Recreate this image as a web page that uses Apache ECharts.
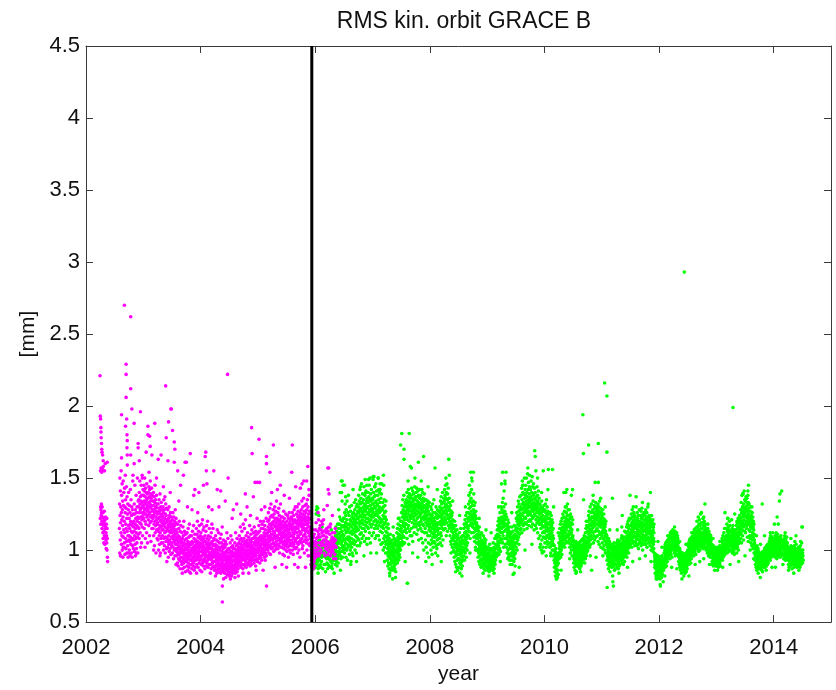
<!DOCTYPE html>
<html>
<head>
<meta charset="utf-8">
<script src="https://cdn.jsdelivr.net/npm/echarts@6/dist/echarts.min.js"></script>
<style>
  html, body { margin: 0; padding: 0; background: #ffffff; }
  #chart { width: 836px; height: 690px; }
</style>
</head>
<body>
<div id="chart"></div>
<script>
// Daily RMS of the kinematic orbit, one string per calendar month (Jan..Dec).
// Each entry is a two-digit code for one day: value [mm] = (code + 60) / 100.
// "--" marks a day without a solution, "" a month without data.

// ---- first processing (magenta) ----
const magenta2002 = ["", "", "",
  "62 95 70 58 68 97 64 72 66 94 60 55 70 63 96 58 52 66 48 98 57 62 45 60 53 67 50 95 58 44",
  "61 55 49 63 56 47 52 41 58 50 45 62 40 55 48 35 32",
  "", "",
  "55 72 38 90 64 47 81 59 36 70 52 95 66 44 78 61 50 86 40 68 57 74 35 63 88 49 71 54 80 42",
  "60 45 83 52 70 37 66 92 48 75 58 41 69 55 84 46 62 38 77 53 99 65 43 72 50 35 68 57 80 47",
  "50 62 40 71 55 46 66 36 58 82 49 60 44 75 53 38 64 47 70 57 35 52 68 43 88 59 48 65 41 56",
  "47 60 53 72 39 65 50 85 44 58 68 36 55 62 48 78 52 41 66 57 45 70 60 90 49 63 38 56 74 51",
  "62 75 55 70 48 80 66 59 88 72 52 68 77 42 63 74 58 85 69 45 78 61 73 56 90 66 50 71 64 82"];
const magenta2003 = [
  "70 78 62 85 66 74 55 81 68 90 72 60 77 48 83 65 73 58 80 69 75 52 86 63 71 79 67 45 76 64",
  "68 80 61 73 57 84 70 65 77 50 82 66 72 59 88 74 63 79 46 69 76 60 83 71 55 67 78 64",
  "62 74 55 68 80 50 71 64 58 77 43 66 73 60 85 52 69 75 57 63 38 70 67 78 54 61 72 48 65 59",
  "58 66 47 72 53 62 40 69 55 75 50 63 44 67 57 79 52 60 38 65 70 48 56 73 61 45 68 54 59 64",
  "50 63 57 45 70 54 66 40 60 75 48 58 68 43 62 52 77 56 38 65 49 72 59 46 64 53 69 41 61 55",
  "48 60 42 55 68 46 57 35 62 50 44 58 70 39 53 64 47 56 41 60 52 66 45 59 37 54 63 49 57 43",
  "52 45 61 38 56 48 66 42 58 50 34 55 63 47 53 40 60 46 57 36 51 68 44 59 49 41 62 54 39 47",
  "44 36 52 40 31 48 58 38 45 29 50 42 34 55 46 37 60 41 33 49 43 27 53 39 47 35 57 32 45 40",
  "38 46 30 52 41 35 48 27 43 56 33 39 50 44 31 60 37 45 28 53 40 34 47 36 42 25 51 38 44 32",
  "41 33 48 37 29 52 44 35 40 26 46 38 55 31 43 36 49 28 42 34 58 39 45 30 37 50 33 24 44 40",
  "36 44 30 50 39 27 46 34 41 53 32 38 45 29 42 35 57 31 40 48 26 37 43 33 51 39 28 46 35 41",
  "40 47 33 55 38 44 30 51 42 36 60 34 46 39 28 49 43 35 53 37 41 31 57 45 33 48 39 26 50 42"];
const magenta2004 = [
  "44 35 52 39 30 47 58 36 42 33 49 40 61 31 45 38 54 29 43 37 48 32 56 41 34 46 39 27 50 36",
  "38 46 32 53 40 29 44 36 57 42 31 48 35 41 60 33 45 28 39 50 43 34 47 37 30 55 41 36 44",
  "42 34 49 30 38 45 27 52 36 41 33 58 39 46 31 44 28 40 55 35 43 37 29 48 32 40 47 26 38 43",
  "36 28 44 32 50 39 26 41 34 47 30 37 24 43 35 54 29 40 33 46 27 38 31 52 36 25 42 34 29 45",
  "33 40 27 48 35 30 42 24 37 51 29 34 45 31 26 39 56 32 28 43 36 25 41 33 47 30 38 27 35 44",
  "30 37 24 42 33 28 46 35 21 39 31 26 44 34 29 52 36 23 40 32 27 38 48 30 25 35 41 28 33 22",
  "34 27 40 23 36 31 45 29 38 25 50 33 28 42 35 22 39 30 47 26 37 32 43 24 36 29 41 33 27 38",
  "29 36 41 26 33 45 30 38 24 35 52 31 27 40 34 43 28 37 32 48 25 39 30 36 44 33 27 41 35 31",
  "38 45 32 50 36 42 29 47 40 34 56 37 31 44 39 28 48 35 41 33 53 38 30 46 36 43 27 40 58 34",
  "41 35 48 30 44 38 55 33 40 29 46 37 61 32 43 36 50 28 39 45 34 42 31 47 37 52 35 40 30 44",
  "36 43 31 49 38 45 33 40 57 35 42 29 47 37 44 32 51 39 34 46 41 30 54 38 43 35 48 33 40 37",
  "42 48 35 52 39 45 31 56 41 37 49 44 33 50 38 46 29 53 40 36 47 43 34 51 39 62 45 32 48 41"];
const magenta2005 = [
  "45 38 52 41 34 48 57 40 46 36 53 43 31 49 44 39 60 35 47 42 50 37 55 44 33 48 40 58 46 39",
  "48 41 55 37 50 44 60 39 46 52 35 49 43 57 40 47 33 54 45 38 51 42 62 47 36 50 44 41",
  "52 45 60 40 56 48 66 43 54 38 61 50 46 58 42 69 53 47 63 37 55 49 72 44 57 51 41 64 48 59",
  "55 47 63 42 58 51 68 45 53 39 60 49 65 44 57 52 70 40 62 48 56 43 67 50 59 46 54 74 41 61",
  "50 62 44 57 49 66 41 55 60 47 53 69 43 58 51 64 38 56 48 61 45 54 72 46 59 52 42 63 50 57",
  "48 58 42 55 63 46 52 37 60 50 44 57 67 41 53 49 62 36 56 45 51 59 43 54 47 65 40 57 50 44",
  "53 45 60 39 55 48 64 42 51 57 46 62 35 54 49 58 43 66 47 52 40 59 45 56 61 38 50 55 44 63",
  "50 57 43 62 47 54 66 40 58 45 52 60 37 55 49 64 44 51 68 42 56 48 61 46 53 70 41 59 47 55",
  "56 48 65 42 60 52 70 45 58 38 63 50 55 67 44 61 49 72 40 57 53 64 46 59 35 66 51 62 47 58",
  "60 52 68 45 63 56 74 48 59 41 65 54 70 43 61 57 50 76 46 62 55 67 38 58 64 51 71 47 60 53",
  "58 66 49 62 72 45 55 68 40 60 53 75 47 63 57 70 36 59 52 65 44 61 78 50 56 67 43 62 54 48",
  "45 36 52 30 48 40 56 33 44 38 50 28 47 35 42 54 31 46 39 27 49 37 43 32 51 34 40 29 45 38"];
const magenta2006 = [
  "46 -- 54 35 -- 43 59 -- 48 36 -- 45 40 -- 37 49 -- 53 42 -- 38 61 -- 51 36 -- 41 55 -- 45",
  "49 -- 57 38 -- 45 -- 54 40 -- 60 43 -- 52 46 -- 58 50 -- 44 53 -- 47 61 -- 50 38 --",
  "43 -- 36 47 -- 41 54 -- 52 45 -- 49 55 -- 44 52 -- 40 46 -- 37 53 -- 42 56 -- 45 39 --",
  "44 51 -- 56 42 -- 58 36 -- 45 40 -- 38 47 -- 43 49 -- 52 41 -- 46 39 -- 44 34 -- 42 48",
  "46 -- 52 37 -- 43 55 -- 47 34 -- 42"];

// single days that stand out from the daily cloud: [year, mm]
const magentaSparse = [
  [2002.245, 2.21], [2002.25, 1.93], [2002.255, 1.91], [2002.26, 1.85], [2002.262, 1.82],
  [2002.265, 1.78], [2002.27, 1.74], [2002.275, 1.70], [2002.28, 1.68], [2002.29, 1.66],
  [2002.30, 1.62], [2002.335, 1.60], [2002.37, 1.61],
  [2002.67, 2.70], [2002.78, 2.62], [2002.70, 2.29], [2002.70, 2.22], [2002.78, 2.12],
  [2002.70, 2.06], [2002.80, 1.98], [2002.95, 1.96], [2002.62, 1.94], [2002.71, 1.91],
  [2002.69, 1.86], [2002.84, 1.88], [2002.715, 1.80], [2002.72, 1.76], [2002.715, 1.71],
  [2002.72, 1.66], [2002.91, 1.74], [2002.91, 1.71], [2002.78, 1.66], [2002.84, 1.60],
  [2002.62, 1.64], [2002.93, 1.62],
  [2003.08, 1.86], [2003.20, 1.88], [2003.08, 1.80], [2003.12, 1.72], [2003.05, 1.68],
  [2003.15, 1.66], [2003.11, 1.79], [2003.39, 2.14], [2003.48, 1.98], [2003.49, 1.98],
  [2003.44, 1.89], [2003.51, 1.83], [2003.54, 1.75], [2003.55, 1.70], [2003.54, 1.61],
  [2003.40, 1.78], [2003.31, 1.66], [2003.43, 1.62], [2003.73, 1.61], [2003.82, 1.67],
  [2003.26, 1.63], [2003.75, 1.61], [2003.90, 1.42], [2003.65, 1.45], [2003.70, 1.52],
  [2003.60, 1.55], [2003.97, 1.40], [2003.88, 1.38],
  [2004.09, 1.68], [2004.08, 1.65], [2004.10, 1.55], [2004.23, 1.55], [2004.05, 1.45],
  [2004.11, 1.46], [2004.29, 1.42], [2004.35, 1.41], [2004.48, 1.50], [2004.57, 1.28],
  [2004.78, 1.39], [2004.47, 2.22], [2004.38, 0.75], [2004.38, 0.64], [2004.89, 1.85],
  [2004.90, 1.67], [2004.95, 1.47], [2004.99, 1.47], [2005.03, 1.47], [2004.92, 1.37],
  [2005.02, 1.77], [2005.15, 1.65], [2005.15, 1.60], [2005.15, 0.75], [2005.27, 1.73],
  [2005.60, 1.73], [2005.21, 1.54], [2005.59, 1.54], [2005.39, 1.45], [2005.87, 1.58],
  [2005.85, 1.48], [2005.80, 1.48], [2005.74, 1.43],
  [2006.22, 1.57], [2006.235, 1.57], [2006.225, 1.42], [2006.24, 1.39], [2006.21, 1.31],
  // looser days around the main cloud
  [2002.60, 0.96], [2002.65, 1.02], [2002.74, 0.98], [2002.82, 1.52], [2002.88, 0.98],
  [2002.98, 1.52], [2003.03, 1.02], [2003.10, 1.54], [2003.18, 1.00], [2003.23, 1.50],
  [2003.29, 0.96], [2003.35, 1.44], [2003.41, 0.92], [2003.47, 1.40], [2003.57, 0.90],
  [2003.62, 1.34], [2003.68, 0.84], [2003.77, 1.30], [2003.80, 0.85], [2003.85, 1.28],
  [2003.93, 0.84], [2003.95, 1.26], [2004.02, 0.85], [2004.14, 1.30], [2004.17, 0.84],
  [2004.20, 1.28], [2004.26, 0.82], [2004.32, 1.30], [2004.40, 0.80], [2004.43, 1.34],
  [2004.52, 0.80], [2004.55, 1.22], [2004.60, 0.81], [2004.63, 1.32], [2004.66, 0.82],
  [2004.70, 1.25], [2004.74, 0.84], [2004.81, 1.30], [2004.84, 0.84], [2004.87, 1.24],
  [2004.97, 0.86], [2005.06, 1.28], [2005.09, 0.86], [2005.12, 1.30], [2005.24, 1.40],
  [2005.30, 0.88], [2005.34, 1.42], [2005.42, 0.90], [2005.46, 1.38], [2005.50, 0.88],
  [2005.55, 1.36], [2005.64, 0.90], [2005.66, 1.44], [2005.70, 0.88], [2005.77, 1.46],
  [2005.83, 0.88], [2005.89, 1.42], [2006.05, 1.26], [2006.15, 1.28], [2006.30, 1.24]];

// ---- second processing (green) ----
const green2005 = ["", "", "", "", "", "", "", "", "", "", "",
  "-- -- -- -- -- -- -- -- -- -- -- -- 35 28 42 31 38 46 30 40 33 27 44 36 32 39 29 41 34 37"];
const green2006 = [
  "33 40 28 45 36 31 65 38 68 34 42 70 30 66 37 44 69 32 39 27 46 35 41 64 29 43 36 33 47 38",
  "36 -- 30 45 -- 39 28 -- 37 32 -- 35 41 -- 45 38 -- 43 27 -- 36 46 -- 39 44 -- 30 42",
  "38 -- 44 30 -- 35 47 -- 37 43 -- 40 34 -- 31 39 -- 45 27 -- 36 30 -- 35 40 -- 44 29 -- 34",
  "36 42 -- 45 33 -- 28 44 -- 32 47 -- 40 29 -- 36 31 -- 27 46 -- 33 42 -- 37 45 -- 39 35 --",
  "40 47 33 52 37 43 30 50 41 35 56 38 45 32 53 39 44 29 49 36 46 58 34 42 51 31 48 39 55 36",
  "45 58 38 52 63 41 49 80 36 55 47 61 34 50 88 44 57 39 53 74 46 42 60 35 51 85 48 56 40 62",
  "50 62 43 57 38 66 47 54 72 41 59 45 64 35 52 68 48 56 40 61 74 44 53 33 58 49 66 42 55 47",
  "55 43 64 49 58 37 70 52 46 61 40 57 67 44 53 32 60 48 71 42 56 63 38 51 65 45 59 36 54 62",
  "58 66 47 62 52 73 44 60 55 68 40 57 64 50 75 46 61 53 70 38 59 65 49 56 72 43 63 54 67 48",
  "62 70 54 78 47 66 58 74 43 68 60 82 51 64 72 56 45 76 63 69 52 86 59 67 48 73 61 55 79 65",
  "66 58 75 50 70 63 84 55 68 72 46 64 78 60 89 53 71 67 57 81 62 48 74 69 59 76 44 65 73 56",
  "70 62 80 55 73 66 48 77 60 85 68 52 75 64 90 58 71 45 67 79 61 74 56 82 63 69 50 76 65 72"];
const green2007 = [
  "68 75 58 89 63 72 52 80 66 91 60 77 70 55 84 64 73 48 69 78 61 86 57 74 65 50 81 67 71 59",
  "64 72 55 78 60 90 68 50 75 63 82 57 70 66 47 80 62 86 73 53 67 59 76 44 69 61 79 56",
  "60 52 68 45 73 57 64 40 70 55 85 48 62 58 75 42 66 50 71 46 59 63 38 67 53 74 44 61 56 49",
  "45 38 52 33 47 41 29 50 36 43 55 31 44 39 27 48 35 42 24 46 37 51 30 40 34 45 26 38 43 32",
  "36 42 28 47 33 39 20 44 31 37 50 26 41 35 45 29 38 48 32 43 27 36 40 30 46 34 25 39 44 33",
  "40 47 34 52 38 44 31 55 42 36 49 58 39 46 33 51 43 62 37 48 41 54 35 57 45 50 40 60 44 53",
  "55 48 66 43 60 52 71 46 63 57 75 50 68 44 59 65 53 78 49 62 70 56 45 67 61 73 54 64 58 72",
  "66 58 75 52 70 63 80 48 68 17 73 61 55 77 65 82 57 71 44 67 74 60 79 53 69 63 76 50 72 64",
  "70 62 78 55 73 67 83 50 65 76 59 71 81 46 68 74 63 56 79 69 61 75 52 72 66 84 58 70 64 77",
  "68 75 60 80 56 72 65 83 51 70 77 62 74 58 67 81 54 71 63 78 47 69 73 59 66 82 57 76 64 70",
  "65 72 55 78 60 68 48 75 62 70 82 53 66 73 58 80 45 69 63 76 57 71 40 67 74 61 79 52 64 70",
  "62 55 70 47 66 59 75 42 63 68 52 72 57 64 38 69 61 74 50 58 67 45 71 60 35 65 54 73 56 62"];
const green2008 = [
  "58 50 65 44 61 53 70 40 56 63 47 68 52 59 37 64 55 72 45 60 49 66 42 57 62 51 75 46 58 54",
  "52 60 45 66 49 56 38 63 54 70 43 58 50 65 41 57 62 47 68 53 36 59 55 64 44 51 67 48",
  "55 63 48 70 58 66 45 74 60 52 68 77 50 64 57 72 43 62 69 55 80 59 65 47 73 61 67 54 76 60",
  "66 74 58 82 63 70 78 55 72 85 61 68 76 50 80 65 71 59 86 67 75 53 79 64 70 62 83 57 73 69",
  "70 62 76 55 68 60 73 50 65 58 71 46 63 56 67 44 60 53 64 48 58 66 42 55 61 47 52 39 57 50",
  "48 40 55 35 50 44 60 32 46 53 38 42 57 30 49 36 45 51 28 43 39 54 33 47 41 26 50 37 44 34",
  "40 34 48 28 43 37 52 31 45 24 39 46 33 41 55 30 44 36 27 49 38 42 32 47 35 29 50 40 33 45",
  "42 50 36 55 45 39 58 47 33 52 44 61 38 49 56 41 64 46 53 35 59 48 43 66 51 40 57 45 62 50",
  "55 66 50 72 60 78 53 69 63 85 57 74 65 48 80 61 70 94 58 76 67 52 82 64 73 59 88 62 71 56",
  "65 58 74 52 68 61 79 49 63 71 55 66 46 60 73 53 64 42 58 67 50 56 62 45 59 48 54 40 57 51",
  "48 40 55 35 50 44 38 53 32 46 41 56 36 43 30 49 39 45 33 51 37 42 28 47 34 40 52 31 44 38",
  "40 33 46 29 42 36 50 31 38 44 27 41 35 48 30 39 34 45 26 43 37 32 47 29 40 35 42 28 36 33"];
const green2009 = [
  "34 28 38 31 26 36 42 29 33 27 40 32 35 25 37 30 44 28 34 31 39 26 33 36 29 41 32 27 35 30",
  "31 36 28 40 33 26 38 30 45 34 29 37 32 42 27 35 39 31 48 36 30 41 33 38 44 35 50 37",
  "42 48 36 54 44 51 38 57 46 40 60 49 43 55 37 62 50 45 58 41 53 66 47 56 39 61 52 70 48 59",
  "55 63 47 68 58 52 73 45 60 66 50 76 56 62 42 70 59 81 53 64 48 67 57 86 61 44 72 54 65 94",
  "58 48 63 42 55 50 38 57 45 52 61 40 47 54 35 59 44 50 37 53 46 33 56 41 49 30 51 43 36 48",
  "45 38 52 33 47 41 56 30 44 49 36 53 39 23 46 42 35 50 32 48 40 57 37 43 34 51 29 45 38 54",
  "48 56 42 62 50 45 66 53 40 60 55 70 47 58 64 52 74 49 61 67 44 72 57 63 51 77 59 68 54 65",
  "62 70 55 78 65 60 83 68 52 75 64 88 58 72 80 61 69 57 85 73 66 79 54 71 90 63 76 67 59 82",
  "70 78 62 85 68 74 58 90 72 66 80 55 77 69 93 64 75 82 60 71 87 67 73 57 79 65 84 70 76 61",
  "74 66 82 60 77 70 88 64 72 56 80 68 75 91 62 71 84 58 78 67 73 86 63 69 79 54 76 65 83 70",
  "72 64 80 57 75 68 95 61 70 77 55 73 66 84 59 71 63 78 52 69 74 60 81 67 48 72 62 76 58 65",
  "65 58 72 50 68 61 44 70 55 63 40 66 59 74 47 62 38 57 69 52 64 42 60 67 49 56 39 71 53 61"];
const green2010 = [
  "60 52 68 45 63 56 72 48 58 66 42 61 54 75 50 64 57 70 46 59 53 67 44 62 55 96 49 65 58 51",
  "55 48 62 42 58 51 66 45 53 60 38 56 49 64 43 57 52 47 61 40 54 46 59 50 36 55 44 48",
  "40 33 43 28 37 31 25 39 34 22 36 30 41 27 35 20 32 38 29 24 36 33 21 30 37 26 34 23 31 35",
  "38 45 34 50 41 36 55 43 48 39 58 46 35 52 44 60 40 49 54 37 47 62 42 51 56 45 65 48 53 43",
  "50 58 44 63 53 47 67 55 42 60 52 70 48 57 80 45 62 54 66 50 59 82 46 64 56 72 51 61 49 68",
  "58 50 64 45 60 53 68 47 56 42 62 51 57 38 65 48 55 44 59 52 40 63 46 54 36 58 49 43 61 50",
  "42 36 47 31 40 34 45 28 38 43 33 39 26 44 35 41 30 37 46 32 38 25 42 36 29 40 34 44 31 37",
  "35 40 30 45 37 33 42 28 39 44 34 36 27 41 38 32 46 35 30 43 37 29 40 33 47 36 31 39 34 42",
  "38 44 33 48 40 36 75 42 46 35 50 39 43 31 47 41 37 52 34 45 40 55 38 49 36 43 57 42 46 39",
  "45 53 40 60 48 56 43 64 51 46 67 55 49 62 42 58 52 70 47 61 54 44 66 57 50 72 59 26 63 53",
  "55 63 48 68 58 52 74 60 45 66 56 62 50 71 59 64 47 69 57 87 53 65 61 73 49 67 58 63 54 70",
  "62 55 68 50 64 58 72 46 60 66 53 70 57 63 44 67 59 74 51 61 65 48 69 56 62 42 58 66 52 60"];
const green2011 = [
  "58 50 64 45 60 53 68 41 55 62 48 57 52 65 43 59 47 54 61 40 56 50 58 38 53 46 60 44 51 49",
  "45 38 50 33 14 42 36 47 30 40 44 35 27 48 39 32 43 37 29 46 34 41 25 38 44 31 36 42",
  "38 32 44 28 40 35 30 76 42 33 18 37 41 15 29 39 34 45 31 36 26 43 38 33 40 27 35 42 30 37",
  "35 41 30 45 37 33 28 43 39 34 47 31 36 42 27 38 44 32 40 35 29 46 37 33 41 30 38 43 34 36",
  "38 44 33 48 40 36 50 31 42 64 37 45 34 47 39 43 30 46 41 35 49 38 44 32 53 40 36 46 42 39",
  "42 48 37 52 44 40 56 46 35 50 43 58 39 47 53 41 60 45 49 38 55 44 51 61 42 57 46 52 78 48",
  "50 57 44 62 52 47 65 54 42 59 51 68 48 56 63 45 60 53 70 49 58 46 66 55 61 50 64 43 57 52",
  "56 49 63 45 59 52 77 47 55 61 43 58 50 66 48 54 62 44 57 51 64 41 60 53 47 56 68 50 58 45",
  "52 60 46 64 54 49 67 43 57 62 48 55 69 45 59 51 63 40 56 53 65 47 58 50 61 44 54 66 49 57",
  "57 50 64 46 60 53 68 44 55 62 48 58 51 66 42 59 54 61 47 56 70 49 63 52 57 45 60 53 64 48",
  "55 48 62 43 58 51 80 46 56 60 40 53 49 64 45 57 52 42 59 50 47 61 39 54 44 56 48 41 52 46",
  "38 32 36 28 34 30 24 35 31 27 37 22 33 29 36 25 32 35 20 30 34 28 23 31 36 26 33 29 21 32"];
const green2012 = [
  "30 25 34 22 28 32 20 27 31 15 29 35 24 33 26 30 21 28 36 25 32 23 29 34 27 31 18 30 26 33",
  "32 38 29 42 34 30 40 36 28 44 33 39 31 45 37 35 41 29 46 38 34 43 32 40 47 36 42 39",
  "40 45 36 48 42 38 50 44 34 47 41 52 39 46 43 37 49 45 40 53 42 47 35 51 44 48 41 54 46 43",
  "44 49 40 52 46 42 38 50 45 41 53 47 36 48 43 51 39 46 44 49 37 52 45 42 47 40 50 43 48 46",
  "42 36 45 32 40 35 38 30 37 33 41 28 36 31 39 26 34 37 29 33 38 24 35 31 36 27 34 30 38 32",
  "33 28 36 25 31 34 22 30 35 27 32 29 37 24 33 30 26 35 31 28 38 32 25 34 29 36 31 27 39 33",
  "35 40 32 43 37 34 45 38 30 42 36 47 33 39 44 35 41 48 37 31 43 39 46 34 40 49 38 44 36 42",
  "42 47 38 50 44 40 52 46 36 49 43 54 41 45 48 39 51 44 55 42 47 37 50 45 53 41 48 43 56 46",
  "46 52 41 56 48 44 63 50 39 54 47 58 43 49 61 45 53 40 57 51 46 65 48 42 55 50 59 44 52 47",
  "48 55 43 59 50 46 62 52 41 57 49 63 45 53 60 47 51 44 56 48 54 42 58 50 46 53 40 55 49 51",
  "47 42 52 38 48 44 55 40 46 50 36 47 43 53 39 45 49 37 51 44 41 48 35 46 42 50 38 44 47 40",
  "40 35 44 32 38 42 30 37 41 34 39 29 43 36 33 40 31 38 35 42 30 37 33 39 34 41 29 36 38 32"];
const green2013 = [
  "36 32 40 29 35 38 31 42 34 30 37 33 39 28 36 41 32 35 30 38 34 43 31 37 33 40 29 36 34 38",
  "38 42 34 46 39 36 48 41 33 44 37 50 40 35 45 42 38 52 36 43 47 39 55 41 37 49 44 40",
  "44 50 40 55 46 42 58 48 38 53 45 62 43 51 47 56 41 49 54 45 39 52 60 47 43 57 50 46 53 48",
  "48 44 53 40 50 46 61 42 49 55 38 47 51 44 57 41 48 52 39 46 54 43 50 37 47 45 52 41 49 44",
  "45 50 41 54 47 43 57 49 38 52 46 59 42 48 55 44 51 62 47 40 56 50 45 60 53 48 64 46 58 51",
  "55 62 48 68 57 52 73 60 45 66 58 78 54 63 70 50 65 59 79 56 67 47 72 61 64 81 57 69 53 75",
  "66 58 74 52 70 63 77 60 68 55 76 64 73 57 71 49 67 62 78 59 73 46 65 61 69 54 72 58 63 50",
  "60 53 67 48 62 56 70 45 58 64 50 57 43 61 55 66 47 59 52 63 41 56 49 60 44 54 58 38 51 47",
  "45 38 43 33 41 36 30 39 34 42 28 37 32 40 26 35 43 31 38 29 36 33 41 27 34 39 30 36 32 38",
  "35 30 38 27 33 36 21 32 29 37 34 31 28 35 31 26 38 33 30 36 25 34 39 29 32 35 28 37 31 34",
  "33 38 30 41 35 32 40 28 36 34 42 31 37 39 29 35 43 32 38 34 40 30 36 44 33 37 31 41 35 39",
  "38 43 34 46 40 36 48 42 33 45 39 50 37 44 41 35 47 43 38 49 36 42 45 40 52 37 46 41 44 39"];
const green2014 = [
  "40 45 36 48 42 58 38 46 43 50 35 44 39 47 41 52 37 45 40 49 34 43 46 38 51 42 36 48 44 40",
  "44 38 47 42 36 45 40 49 37 43 46 35 48 41 44 39 50 42 36 47 43 38 45 41 46",
  "42 37 46 34 44 40 48 36 43 39 50 35 41 45 33 47 38 42 46 37 44 40 49 35 43 39 45 36 41 38",
  "38 33 42 30 37 35 40 28 36 39 32 41 34 37 29 40 35 31 38 43 33 36 30 39 34 41 27 37 32 36",
  "34 39 30 42 36 32 40 28 37 35 43 31 38 46 33 36 29 41 34 38 31 44 35 30 39 33 37 28 40 35",
  "36 32 40 29 38 34 42 31 37 35 30 39 33 41 36 28 38 34 43 32 37 35 30 40 33 38 45 34 56 36",
  "34 38 31 40 36 33"];

const greenSparse = [
  [2006.47, 1.48], [2006.51, 1.45], [2006.46, 1.40], [2006.53, 1.37], [2006.93, 1.49],
  [2007.01, 1.51], [2007.10, 1.50], [2007.19, 1.52], [2006.90, 1.45], [2007.16, 1.46],
  [2007.51, 1.81], [2007.64, 1.81], [2007.49, 1.73], [2007.55, 1.70], [2007.55, 1.63],
  [2007.66, 1.58], [2007.68, 1.57], [2007.80, 1.61], [2007.89, 1.65], [2007.61, 0.77],
  [2008.09, 1.57], [2008.33, 1.63], [2008.34, 1.52], [2008.76, 1.54], [2009.27, 1.54],
  [2009.25, 1.46], [2009.83, 1.69], [2009.84, 1.65], [2009.71, 1.57], [2009.98, 1.55],
  [2010.14, 1.56], [2010.34, 1.40], [2010.49, 1.42], [2010.67, 1.94], [2010.68, 1.67],
  [2010.77, 1.73], [2010.94, 1.74], [2010.94, 1.47], [2011.05, 2.16], [2011.09, 2.07],
  [2011.09, 1.68], [2012.44, 2.93], [2013.29, 1.99], [2013.56, 1.45], [2013.55, 1.41],
  [2013.46, 1.39], [2014.14, 1.41], [2014.11, 1.39], [2014.10, 1.34], [2014.06, 1.23],
  [2012.80, 1.32], [2013.15, 1.26], [2013.32, 1.25], [2013.80, 1.32], [2014.50, 1.16],
  // looser days around the main cloud
  [2006.05, 0.84], [2006.12, 1.16], [2006.18, 0.85], [2006.28, 1.14], [2006.33, 0.84],
  [2006.41, 1.28], [2006.44, 0.86], [2006.58, 1.38], [2006.62, 0.90], [2006.66, 1.42],
  [2006.72, 0.92], [2006.79, 1.44], [2006.85, 0.96], [2006.88, 1.40], [2006.97, 0.98],
  [2007.04, 1.44], [2007.07, 0.98], [2007.13, 1.42], [2007.21, 0.92], [2007.27, 1.18],
  [2007.30, 0.82], [2007.36, 1.16], [2007.40, 0.81], [2007.45, 1.22], [2007.57, 0.92],
  [2007.62, 1.48], [2007.70, 0.98], [2007.74, 1.50], [2007.79, 0.95], [2007.85, 1.48],
  [2007.93, 0.92], [2007.97, 1.44], [2008.04, 0.90], [2008.13, 1.42], [2008.20, 0.92],
  [2008.28, 1.50], [2008.37, 0.98], [2008.40, 1.34], [2008.45, 0.85], [2008.52, 1.24],
  [2008.56, 0.82], [2008.62, 1.30], [2008.70, 0.98], [2008.73, 1.50], [2008.80, 1.00],
  [2008.86, 1.22], [2008.93, 0.84], [2008.98, 1.14], [2009.03, 0.82], [2009.07, 1.12],
  [2009.12, 0.84], [2009.20, 1.30], [2009.23, 0.92], [2009.31, 1.48], [2009.36, 0.94],
  [2009.43, 1.26], [2009.47, 0.84], [2009.52, 1.22], [2009.56, 0.88], [2009.62, 1.45],
  [2009.66, 1.00], [2009.74, 1.52], [2009.78, 1.04], [2009.88, 1.50], [2009.92, 1.02],
  [2009.95, 1.40], [2010.03, 0.96], [2010.06, 1.42], [2010.11, 0.96], [2010.16, 1.30],
  [2010.21, 0.80], [2010.24, 1.12], [2010.29, 0.86], [2010.38, 1.30], [2010.44, 0.94],
  [2010.47, 1.38], [2010.55, 0.84], [2010.58, 1.14], [2010.63, 0.85], [2010.73, 1.20],
  [2010.80, 0.96], [2010.85, 1.38], [2010.90, 0.95], [2010.98, 1.36], [2011.02, 0.96],
  [2011.06, 1.30], [2011.14, 1.14], [2011.19, 0.82], [2011.27, 1.14], [2011.30, 0.84],
  [2011.35, 1.16], [2011.45, 0.88], [2011.48, 1.22], [2011.54, 0.92], [2011.60, 1.30],
  [2011.66, 0.94], [2011.71, 1.33], [2011.76, 0.96], [2011.81, 1.32], [2011.86, 0.92],
  [2011.91, 1.18], [2011.95, 0.80], [2011.98, 1.06], [2012.02, 0.76], [2012.05, 1.02],
  [2012.10, 0.82], [2012.15, 1.10], [2012.22, 0.88], [2012.27, 1.16], [2012.31, 0.87],
  [2012.36, 1.06], [2012.40, 0.80], [2012.47, 1.04], [2012.52, 0.82], [2012.57, 1.12],
  [2012.63, 0.90], [2012.66, 1.20], [2012.71, 0.92], [2012.74, 1.26], [2012.78, 0.94],
  [2012.85, 1.18], [2012.88, 0.90], [2012.94, 1.08], [2012.97, 0.86], [2013.02, 0.86],
  [2013.06, 1.06], [2013.11, 0.88], [2013.20, 1.22], [2013.24, 0.90], [2013.36, 1.20],
  [2013.39, 0.92], [2013.44, 1.28], [2013.50, 0.96], [2013.53, 1.36], [2013.59, 1.00],
  [2013.62, 1.30], [2013.65, 0.94], [2013.70, 1.10], [2013.73, 0.84], [2013.77, 1.04],
  [2013.84, 1.10], [2013.87, 0.86], [2013.94, 1.12], [2013.97, 0.88], [2014.03, 0.88],
  [2014.08, 1.18], [2014.16, 0.90], [2014.20, 1.12], [2014.26, 0.86], [2014.30, 1.08],
  [2014.35, 0.84], [2014.39, 1.10], [2014.44, 0.86], [2014.47, 1.06]];

// date at which the processing changes (vertical marker)
const switchYear = 2005.94;

const yearMin = 2002, yearMax = 2015, yearStep = 2;
const rmsMin = 0.5, rmsMax = 4.5, rmsStep = 0.5;

function decodeYear(year, months) {
  const pts = [];
  months.forEach(function (s, m) {
    if (!s) return;
    s.trim().split(/\s+/).forEach(function (c, d) {
      if (c === '--') return;
      pts.push([year + m / 12 + d / 365.25, (parseInt(c, 10) + 60) / 100]);
    });
  });
  return pts;
}

const magentaData = [].concat(
  decodeYear(2002, magenta2002), decodeYear(2003, magenta2003), decodeYear(2004, magenta2004),
  decodeYear(2005, magenta2005), decodeYear(2006, magenta2006), magentaSparse);
const greenData = [].concat(
  decodeYear(2005, green2005), decodeYear(2006, green2006), decodeYear(2007, green2007),
  decodeYear(2008, green2008), decodeYear(2009, green2009), decodeYear(2010, green2010),
  decodeYear(2011, green2011), decodeYear(2012, green2012), decodeYear(2013, green2013),
  decodeYear(2014, green2014), greenSparse);

const FONT = 'Liberation Sans, Arial, Helvetica, sans-serif';
const AXIS_COLOR = '#3a3a3a';

function xAxisDef(pos, showLabels) {
  return {
    type: 'value', position: pos, min: yearMin, max: yearMax, interval: yearStep,
    name: showLabels ? 'year' : '', nameLocation: 'middle', nameGap: 33,
    nameTextStyle: { fontFamily: FONT, fontSize: 21, color: '#111' },
    axisLine: { show: true, onZero: false, lineStyle: { color: AXIS_COLOR, width: 1 } },
    axisTick: { show: true, inside: true, length: 7, lineStyle: { color: AXIS_COLOR } },
    axisLabel: { show: showLabels, showMaxLabel: false, margin: 15, fontFamily: FONT, fontSize: 22, color: '#111',
                 formatter: function (v) { return String(v); } },
    splitLine: { show: false }
  };
}
function yAxisDef(pos, showLabels) {
  return {
    type: 'value', position: pos, min: rmsMin, max: rmsMax, interval: rmsStep,
    name: showLabels ? '[mm]' : '', nameLocation: 'middle', nameGap: 47, nameRotate: 90,
    nameTextStyle: { fontFamily: FONT, fontSize: 21, color: '#111' },
    axisLine: { show: true, onZero: false, lineStyle: { color: AXIS_COLOR, width: 1 } },
    axisTick: { show: true, inside: true, length: 7, lineStyle: { color: AXIS_COLOR } },
    axisLabel: { show: showLabels, margin: 6, fontFamily: FONT, fontSize: 22, color: '#111',
                 formatter: function (v) { return String(v); } },
    splitLine: { show: false }
  };
}

const chart = echarts.init(document.getElementById('chart'), null, { renderer: 'canvas' });
chart.setOption({
  animation: false,
  backgroundColor: '#ffffff',
  title: {
    text: 'RMS kin. orbit GRACE B', left: 459, top: 5, textAlign: 'center',
    textStyle: { fontFamily: FONT, fontSize: 23, fontWeight: 'normal', color: '#111' }
  },
  grid: { left: 86, right: 5, top: 46, bottom: 56, containLabel: false },
  xAxis: [xAxisDef('bottom', true), xAxisDef('top', false)],
  yAxis: [yAxisDef('left', true), yAxisDef('right', false)],
  series: [
    {
      name: 'green', type: 'scatter', xAxisIndex: 0, yAxisIndex: 0,
      data: greenData, symbol: 'circle', symbolSize: 3.6, large: false,
      itemStyle: { color: '#00ff00', opacity: 1 }, silent: true, z: 2
    },
    {
      name: 'magenta', type: 'scatter', xAxisIndex: 0, yAxisIndex: 0,
      data: magentaData, symbol: 'circle', symbolSize: 3.6, large: false,
      itemStyle: { color: '#ff00ff', opacity: 1 }, silent: true, z: 3
    },
    {
      name: 'switch', type: 'line', xAxisIndex: 0, yAxisIndex: 0,
      data: [[switchYear, rmsMin], [switchYear, rmsMax]],
      symbol: 'none', lineStyle: { color: '#000000', width: 3 }, silent: true, z: 5
    }
  ]
});
</script>
</body>
</html>
